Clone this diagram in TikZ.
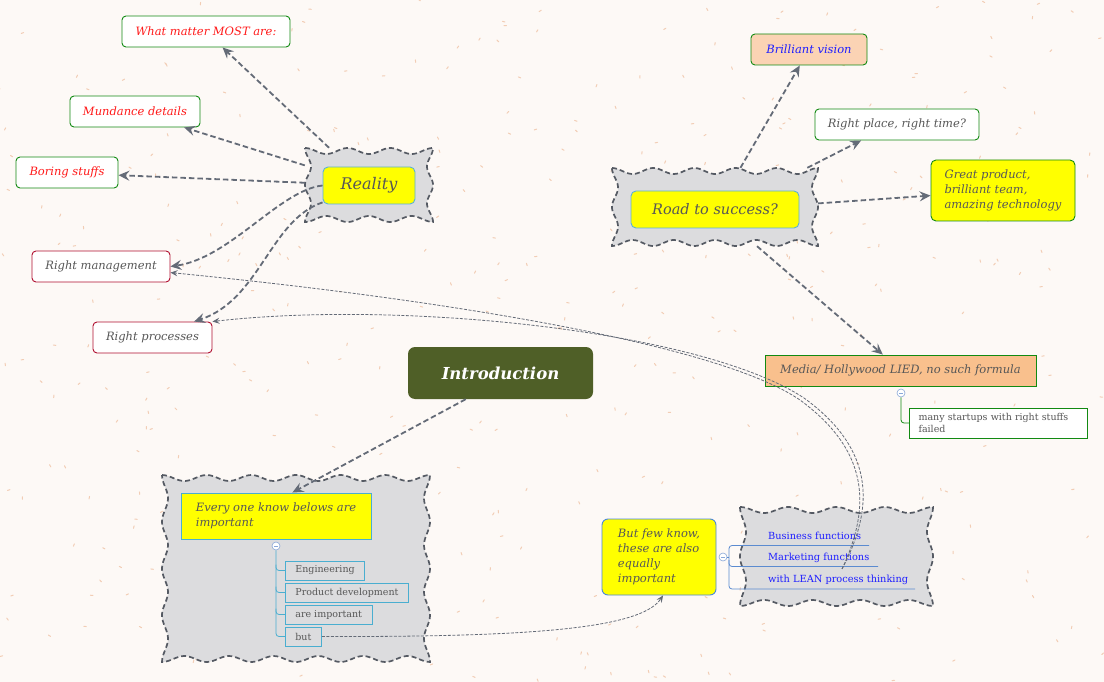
\documentclass[tikz,border=0pt]{standalone}
\usepackage{fontspec}
\setmainfont{DejaVu Serif}
\usetikzlibrary{arrows.meta,calc}
\definecolor{bgcol}{HTML}{FDF9F6}
\definecolor{speck}{HTML}{F2CDB5}
\definecolor{boxgreen}{HTML}{128A12}
\definecolor{txtred}{HTML}{FF1A1A}
\definecolor{txtgray}{HTML}{575757}
\definecolor{txtblue}{HTML}{1F1FFF}
\definecolor{crimson}{HTML}{B01030}
\definecolor{peach}{HTML}{FBD3B4}
\definecolor{mediafill}{HTML}{F9C08D}
\definecolor{ylw}{HTML}{FFFF00}
\definecolor{skyline}{HTML}{5AB0D8}
\definecolor{leafblue}{HTML}{4AAED0}
\definecolor{fewblue}{HTML}{4A86D8}
\definecolor{bizline}{HTML}{5B8BD0}
\definecolor{introcol}{HTML}{4F5F27}
\definecolor{conncol}{HTML}{646B77}
\definecolor{cloudfill}{HTML}{DCDCDE}
\definecolor{cloudline}{HTML}{555A63}
\definecolor{togglecol}{HTML}{8AA8D8}
% wavy box: x1 y1 x2 y2 waves-across waves-down
\newcommand\wavybox[6]{%
  \path[cloudbg]
    plot[domain=0:1,samples=90,variable=\t] ({#1+\t*(#3-#1)},{#2+3*(1-cos(360*#5*\t))})
    -- plot[domain=0:1,samples=70,variable=\t] ({#3-3*(1-cos(360*#6*\t))},{#2+\t*(#4-#2)})
    -- plot[domain=0:1,samples=90,variable=\t] ({#3-\t*(#3-#1)},{#4-3*(1-cos(360*#5*\t))})
    -- plot[domain=0:1,samples=70,variable=\t] ({#1+3*(1-cos(360*#6*\t))},{#4-\t*(#4-#2)})
    -- cycle;}
\begin{document}
\begin{tikzpicture}[x=1pt,y=-1pt,
  box/.style={draw=boxgreen, line width=0.9pt, rounded corners=4pt, fill=white, inner sep=0pt,
    font=\fontsize{11.5}{15}\selectfont\itshape, text=txtgray},
  cloudbg/.style={draw=cloudline, fill=cloudfill, line width=1.7pt, dash pattern=on 5pt off 3pt},
  anchorbox/.style={inner sep=0pt, draw=none},
  conn/.style={draw=conncol, line width=1.8pt, dash pattern=on 5.5pt off 3pt,
    -{Stealth[length=11pt,width=10pt,inset=4pt]}},
  thinconn/.style={draw=conncol, line width=0.8pt, dash pattern=on 3pt off 1.5pt,
    -{Stealth[length=7pt,width=6pt,inset=2.5pt]}},
  leaf/.style={draw=leafblue, line width=0.8pt, inner xsep=10pt, inner ysep=0pt, minimum height=19pt,
    anchor=west, font=\fontsize{9.5}{11}\selectfont, text=txtgray},
  biztext/.style={anchor=west, inner sep=0pt, font=\fontsize{9.8}{11}\selectfont, text=txtblue},
  toggle/.style={circle, draw=togglecol, fill=white, minimum size=8pt, inner sep=0pt, line width=0.6pt,
    path picture={\draw[togglecol,line width=0.7pt] ($(path picture bounding box.west)+(2,0)$) -- ($(path picture bounding box.east)+(-2,0)$);}},
  treeline/.style={draw=leafblue, line width=0.8pt, rounded corners=3pt}
]
\useasboundingbox (0,0) rectangle (1104,682);
\fill[bgcol] (0,0) rectangle (1104,682);
\pgfmathsetseed{7}
\foreach \i in {1,...,420}{
  \pgfmathsetmacro\xx{rnd*1104}
  \pgfmathsetmacro\yy{rnd*682}
  \pgfmathsetmacro\aa{rnd*180}
  \draw[speck, line width=1pt, line cap=round] (\xx,\yy) -- ++(\aa:2.5pt);
}

% clouds
\wavybox{305}{148}{433}{222}{3}{2}
\wavybox{612}{168}{818}{246}{5}{2}
\wavybox{162}{475}{430}{662}{6}{4}
\wavybox{740}{507}{933}{606}{4}{2}
\node[anchorbox, minimum width=128pt, minimum height=74pt] (realcloud) at (369,185) {};
\node[anchorbox, minimum width=206pt, minimum height=78pt] (roadcloud) at (715,207) {};

% left side nodes
\node[box, text=txtred, minimum width=168pt, minimum height=31pt] (whatmatter) at (206,31.5) {What matter MOST are:};
\node[box, text=txtred, minimum width=130pt, minimum height=31pt] (mundance) at (135,111.5) {Mundance details};
\node[box, text=txtred, minimum width=102pt, minimum height=31pt] (boring) at (67,172.5) {Boring stuffs};
\node[box, draw=crimson, minimum width=138pt, minimum height=31pt] (rightmgmt) at (101,266.5) {Right management};
\node[box, draw=crimson, minimum width=119pt, minimum height=31pt] (rightproc) at (152.5,337.5) {Right processes};
\node[box, draw=skyline, fill=ylw, rounded corners=5pt, minimum width=92pt, minimum height=37pt,
  font=\fontsize{16}{18}\selectfont\itshape] (reality) at (369,185.5) {Reality};

% right side nodes
\node[box, draw=skyline, fill=ylw, rounded corners=5pt, minimum width=168pt, minimum height=37pt,
  font=\fontsize{14.5}{17}\selectfont\itshape] (road) at (715,209.5) {Road to success?};
\node[box, fill=peach, text=txtblue, minimum width=116pt, minimum height=31pt] (brilliant) at (809,49.5) {Brilliant vision};
\node[box, minimum width=164pt, minimum height=31pt] (rightplace) at (897,124.5) {Right place, right time?};
\node[box, fill=ylw, rounded corners=5pt, minimum width=144pt, minimum height=61pt, align=left] (great) at (1003,190.5) {Great product,\\brilliant team,\\amazing technology};
\node[box, fill=mediafill, rounded corners=0pt, minimum width=271pt, minimum height=31pt] (media) at (900.5,370.5) {Media/ Hollywood LIED, no such formula};
\node[box, rounded corners=0pt, inner xsep=9pt, text width=160pt, minimum height=30pt, align=left,
  font=\fontsize{9.5}{12}\selectfont] (many) at (998.5,423) {many startups with right stuffs\\failed};
\node[toggle, draw=togglecol] (t2) at (901,393) {};
\draw[draw=boxgreen, line width=0.8pt, rounded corners=3pt] (t2.south) |- (many.west);

% introduction
\node[fill=introcol, rounded corners=7pt, minimum width=185pt, minimum height=52pt, text=white,
  font=\fontsize{16.5}{19}\selectfont\bfseries\itshape] (intro) at (500.5,373) {Introduction};

% every one tree
\node[box, draw=leafblue, fill=ylw, rounded corners=0pt, minimum width=190pt, minimum height=46pt, align=left] (everyone) at (276,516) {Every one know belows are\\important};
\node[toggle] (t1) at (276,546) {};
\node[leaf] (eng) at (285,570.5) {Engineering};
\node[leaf] (prod) at (285,592.5) {Product development};
\node[leaf] (areimp) at (285,614.5) {are important};
\node[leaf] (but) at (285,636.5) {but};
\draw[treeline] (t1.south) |- (but.west);
\draw[treeline] ($(eng.west)+(-9,-6)$) |- (eng.west);
\draw[treeline] ($(prod.west)+(-9,-6)$) |- (prod.west);
\draw[treeline] ($(areimp.west)+(-9,-6)$) |- (areimp.west);

% but few know
\node[box, draw=fewblue, fill=ylw, rounded corners=6pt, minimum width=114pt, minimum height=76pt, align=left] (butfew) at (659,557) {But few know,\\these are also\\equally\\important};
\node[toggle] (t3) at (723,557) {};
\node[biztext] (biz) at (768,536) {Business functions};
\node[biztext] (mk) at (768,558) {Marketing functions};
\node[biztext] (lean) at (768,580) {with LEAN process thinking};
\draw[draw=bizline, line width=0.8pt] (t3.east) -- (729,557);
\draw[draw=bizline, line width=0.8pt, rounded corners=3pt] (869,545.5) -- (729,545.5) -- (729,566.5) -- (878,566.5);
\draw[draw=bizline, line width=0.8pt, rounded corners=3pt] (729,560) -- (729,589) -- (915,589);
\coordinate (mkstart) at (842,569);

% thick connectors
\draw[conn] (realcloud.137) -- (whatmatter.-44);
\draw[conn] (realcloud.163) -- (mundance.-18);
\draw[conn] (realcloud.178) -- (boring.-3);
\draw[conn] (reality.west) .. controls (280,190) and (230,258) .. (rightmgmt.east);
\draw[conn] (reality.200) .. controls (270,220) and (260,300) .. (rightproc.21);
\draw[conn] (roadcloud.57) -- (brilliant.240);
\draw[conn] (roadcloud.23) -- (rightplace.204);
\draw[conn] (roadcloud.2) -- (great.184);
\draw[conn] (roadcloud.-43) -- (media.138);
\draw[conn] (intro.217) -- (everyone.55);

% thin connectors
\draw[thinconn] (mkstart) .. controls (872,505) and (868,450) .. (800,400) .. controls (720,345) and (450,300) .. (rightmgmt.-5);
\draw[thinconn] (mkstart) .. controls (876,505) and (873,448) .. (804,398) .. controls (700,330) and (400,300) .. (rightproc.north east);
\draw[thinconn] (but.east) .. controls (520,637) and (640,630) .. (butfew.-84);
\end{tikzpicture}
\end{document}
